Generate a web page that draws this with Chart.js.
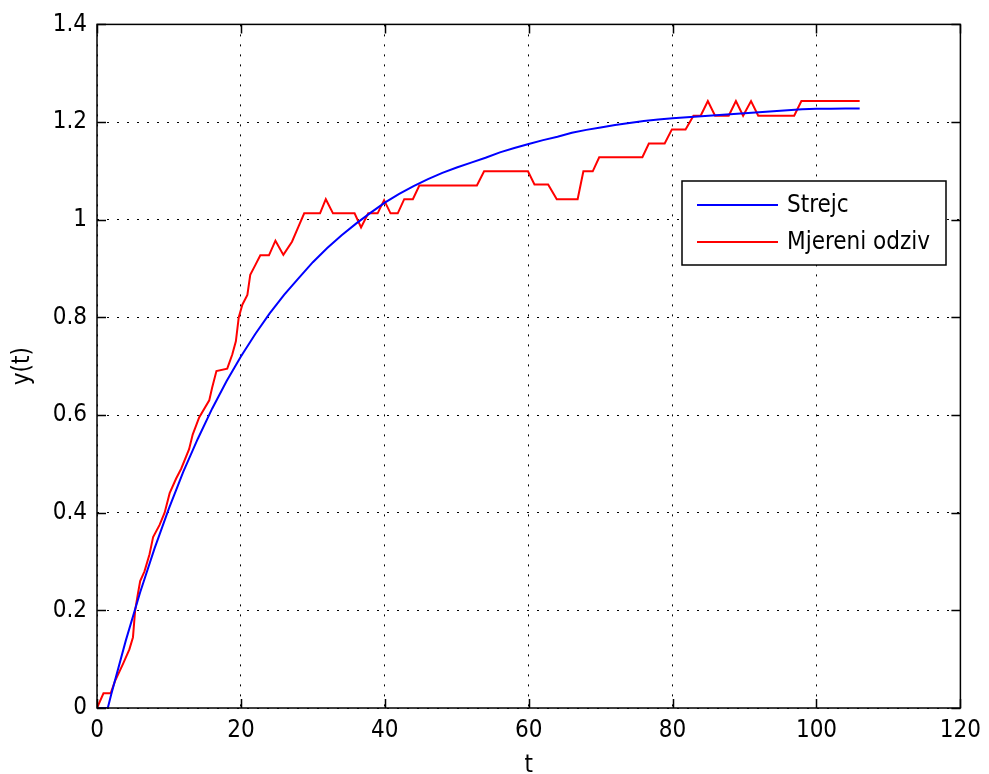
<!DOCTYPE html>
<html>
<head>
<meta charset="utf-8">
<title>Strejc</title>
<script src="https://cdn.jsdelivr.net/npm/chart.js@4.4.1/dist/chart.umd.min.js"></script>
<style>
  html, body { margin: 0; padding: 0; background: #fff; }
  #wrap { width: 989px; height: 774px; }
</style>
</head>
<body>
<div id="wrap"><canvas id="odziv"></canvas></div>
<script>
// Strejc model response
const strejcT = [0, 1.5, 2, 4, 6, 8, 10, 12, 14, 16, 18, 20, 22, 24, 26, 28, 30, 32, 34, 36, 38, 40,
  42, 44, 46, 48, 50, 52, 54, 56, 58, 60, 62, 64, 66, 68, 70, 72, 74, 76, 78, 80, 82, 84, 86, 88,
  90, 92, 94, 96, 98, 100, 102, 104, 106];
const strejcY = [0, 0, 0.029, 0.138, 0.237, 0.327, 0.409, 0.484, 0.551, 0.613, 0.669, 0.720, 0.766,
  0.808, 0.846, 0.880, 0.913, 0.942, 0.968, 0.992, 1.014, 1.035, 1.053, 1.069, 1.083, 1.096, 1.107,
  1.117, 1.127, 1.138, 1.147, 1.155, 1.163, 1.170, 1.178, 1.184, 1.189, 1.194, 1.198, 1.202, 1.205,
  1.208, 1.210, 1.212, 1.214, 1.216, 1.218, 1.220, 1.222, 1.224, 1.226, 1.227, 1.227, 1.228, 1.228];

// measured response
const mjerT = [0, 0.9, 1.9, 2.5, 3.6, 4.5, 5.0, 5.3, 5.7, 6.0, 6.6, 7.3, 7.8, 8.7, 9.4, 10.1, 11, 11.7,
  12.8, 13.3, 14.2, 15.6, 16.0, 16.6, 18.1, 18.8, 19.3, 19.7, 20.2, 20.9, 21.3, 22.0, 22.7, 23.9,
  24.8, 25.9, 27.1, 28.0, 28.8, 31.0, 31.8, 32.8, 35.8, 36.7, 37.7, 39.0, 39.9, 40.8, 41.8, 42.7,
  43.9, 44.8, 52.8, 53.8, 59.9, 60.8, 62.7, 63.9, 66.8, 67.6, 68.9, 69.8, 75.8, 76.7, 78.9, 79.9,
  81.8, 82.9, 83.9, 84.9, 85.9, 87.8, 88.8, 89.8, 90.9, 91.9, 96.9, 97.9, 106];
const mjerY = [0, 0.03, 0.03, 0.055, 0.09, 0.12, 0.145, 0.2, 0.235, 0.26, 0.28, 0.315, 0.35, 0.375,
  0.4, 0.44, 0.47, 0.49, 0.53, 0.56, 0.595, 0.63, 0.656, 0.69, 0.695, 0.724, 0.751, 0.8, 0.826,
  0.846, 0.887, 0.907, 0.927, 0.927, 0.957, 0.928, 0.955, 0.986, 1.013, 1.013, 1.042, 1.013, 1.013,
  0.984, 1.013, 1.013, 1.04, 1.013, 1.013, 1.042, 1.042, 1.07, 1.07, 1.099, 1.099, 1.072, 1.072,
  1.042, 1.042, 1.099, 1.099, 1.128, 1.128, 1.156, 1.156, 1.185, 1.185, 1.213, 1.213, 1.243, 1.213,
  1.213, 1.243, 1.213, 1.243, 1.213, 1.213, 1.243, 1.243];

const xTicks = [0, 20, 40, 60, 80, 100, 120];
const yTicks = [0, 0.2, 0.4, 0.6, 0.8, 1, 1.2, 1.4];
const yTickLabels = ['0', '0.2', '0.4', '0.6', '0.8', '1', '1.2', '1.4'];

const FONT = "'Liberation Sans Narrow', 'DejaVu Sans Condensed', Arial, sans-serif";

function toPoints(xs, ys) {
  return xs.map((x, i) => ({ x: x, y: ys[i] }));
}

// axes box with inward ticks plus the legend box
const boxPlugin = {
  id: 'matlabBox',
  afterDatasetsDraw(chart) {
    const { ctx, chartArea: a, scales } = chart;
    ctx.save();
    ctx.strokeStyle = '#000';
    ctx.lineWidth = 1.5;
    ctx.strokeRect(a.left, a.top, a.right - a.left, a.bottom - a.top);

    const len = 9;
    ctx.beginPath();
    xTicks.forEach(v => {
      const px = Math.round(scales.x.getPixelForValue(v)) + 0.5;
      ctx.moveTo(px, a.bottom); ctx.lineTo(px, a.bottom - len);
      ctx.moveTo(px, a.top); ctx.lineTo(px, a.top + len);
    });
    yTicks.forEach(v => {
      const py = Math.round(scales.y.getPixelForValue(v)) + 0.5;
      ctx.moveTo(a.left, py); ctx.lineTo(a.left + len, py);
      ctx.moveTo(a.right, py); ctx.lineTo(a.right - len, py);
    });
    ctx.stroke();

    // legend
    const bx = 682, by = 181, bw = 264, bh = 84;
    ctx.fillStyle = '#fff';
    ctx.fillRect(bx, by, bw, bh);
    ctx.lineWidth = 1.5;
    ctx.strokeRect(bx, by, bw, bh);
    ctx.font = '24px ' + FONT;
    ctx.textBaseline = 'middle';
    chart.data.datasets.forEach((ds, i) => {
      const y = by + 24 + i * 37;
      ctx.strokeStyle = ds.borderColor;
      ctx.lineWidth = 2;
      ctx.beginPath();
      ctx.moveTo(bx + 15, y); ctx.lineTo(bx + 96, y);
      ctx.stroke();
      ctx.fillStyle = '#000';
      ctx.fillText(ds.label, bx + 105, y + 1);
    });
    ctx.restore();
  }
};

const ctx = document.getElementById('odziv').getContext('2d');
new Chart(ctx, {
  type: 'line',
  data: {
    datasets: [
      {
        label: 'Strejc',
        data: toPoints(strejcT, strejcY),
        borderColor: '#0000ff',
        borderWidth: 2,
        pointRadius: 0,
        tension: 0
      },
      {
        label: 'Mjereni odziv',
        data: toPoints(mjerT, mjerY),
        borderColor: '#ff0000',
        borderWidth: 2,
        pointRadius: 0,
        tension: 0
      }
    ]
  },
  options: {
    responsive: true,
    maintainAspectRatio: false,
    animation: false,
    layout: { padding: { top: 22, right: 23, left: 0, bottom: 0 } },
    plugins: {
      legend: { display: false },
      tooltip: { enabled: false }
    },
    scales: {
      x: {
        type: 'linear',
        min: 0,
        max: 120,
        afterFit: s => { s.height = 66; },
        afterBuildTicks: s => { s.ticks = xTicks.map(v => ({ value: v })); },
        ticks: { color: '#000', font: { family: FONT, size: 24 }, padding: 8, maxRotation: 0 },
        grid: { color: '#000', lineWidth: 1, drawTicks: false },
        border: { display: false, dash: [2, 8] },
        title: { display: true, text: 't', color: '#000', font: { family: FONT, size: 24 }, padding: { top: 0, bottom: -6 } }
      },
      y: {
        type: 'linear',
        min: 0,
        max: 1.4,
        afterFit: s => { s.width = 97; },
        afterBuildTicks: s => { s.ticks = yTicks.map(v => ({ value: v })); },
        ticks: {
          color: '#000',
          font: { family: FONT, size: 24 },
          padding: 10,
          callback: (v) => yTickLabels[yTicks.findIndex(t => Math.abs(t - v) < 1e-9)]
        },
        grid: { color: '#000', lineWidth: 1, drawTicks: false },
        border: { display: false, dash: [2, 8] },
        title: { display: true, text: 'y(t)', color: '#000', font: { family: FONT, size: 24 }, padding: { top: 8, bottom: 0 } }
      }
    }
  },
  plugins: [boxPlugin]
});
</script>
</body>
</html>
